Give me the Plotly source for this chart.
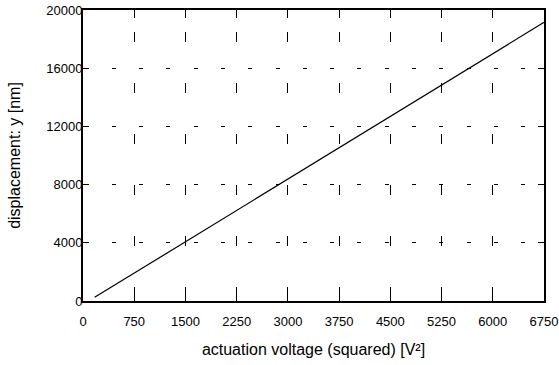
import plotly.graph_objects as go

# data
voltage_sq = [170, 6750]
displacement = [250, 19150]
x_ticks = [0, 750, 1500, 2250, 3000, 3750, 4500, 5250, 6000, 6750]
y_ticks = [0, 4000, 8000, 12000, 16000, 20000]

fig = go.Figure()
fig.add_trace(go.Scatter(x=voltage_sq, y=displacement, mode="lines",
                         line=dict(color="black", width=1.2), showlegend=False,
                         hoverinfo="skip"))

font = dict(family="Liberation Sans, Arial, sans-serif", size=13, color="black")

fig.update_layout(
    width=559, height=365,
    margin=dict(l=83, r=15, t=10, b=64),
    paper_bgcolor="white", plot_bgcolor="white",
    font=font,
    xaxis=dict(
        range=[0, 6750], tickvals=x_ticks, ticktext=[str(v) for v in x_ticks],
        ticks="inside", ticklen=8, tickcolor="black", tickwidth=1,
        showline=True, linecolor="black", linewidth=2, mirror="ticks",
        showgrid=True, gridcolor="black", gridwidth=1,
        griddash="0px,22px,10px,19px",
        zeroline=False, automargin=False, ticklabelstandoff=7,
        title=dict(text="actuation voltage (squared) [V²]", standoff=16),
    ),
    yaxis=dict(
        range=[0, 20000], tickvals=y_ticks, ticktext=[str(v) for v in y_ticks],
        ticks="inside", ticklen=6, tickcolor="black", tickwidth=1,
        showline=True, linecolor="black", linewidth=2, mirror="ticks",
        showgrid=True, gridcolor="black", gridwidth=1,
        griddash="0px,1.4px,4px,21.9px",
        zeroline=False, automargin=False, ticklabelstandoff=-4,
        title=dict(text="displacement: y [nm]", standoff=22),
    ),
)

fig.write_html("out.html",
               config={"displayModeBar": False},
               post_script="document.body.style.margin='0';document.body.style.overflow='hidden';")
